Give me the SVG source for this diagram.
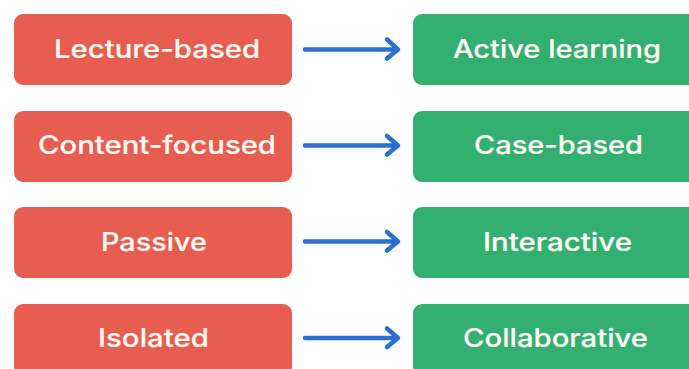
<svg xmlns="http://www.w3.org/2000/svg" width="689" height="369" viewBox="0 0 689 369">
<style>
.l{fill:#e75d4f}.r{fill:#33b06f}
text{font-family:Inter,"Liberation Sans",sans-serif;font-size:25.500px;font-weight:500;fill:#fbf8f2;text-anchor:middle;stroke:#fbf8f2;stroke-width:.2}
.a{fill:none;stroke:#2a70d3;stroke-width:4.500;stroke-linecap:round;stroke-linejoin:round}
</style>
<rect width="689" height="369" fill="#fff"/>
<g id="n1"><rect class="l" x="14" y="14" width="278" height="71" rx="9"/><text x="157" y="58" textLength="206" lengthAdjust="spacingAndGlyphs">Lecture-based</text></g>
<g id="n2"><rect class="l" x="14" y="111" width="278" height="71" rx="9"/><text x="157" y="154" textLength="238" lengthAdjust="spacingAndGlyphs">Content-focused</text></g>
<g id="n3"><rect class="l" x="14" y="207" width="278" height="71" rx="9"/><text x="154" y="251" textLength="106" lengthAdjust="spacingAndGlyphs">Passive</text></g>
<g id="n4"><rect class="l" x="14" y="304" width="278" height="71" rx="9"/><text x="153.500" y="347" textLength="111" lengthAdjust="spacingAndGlyphs">Isolated</text></g>
<g id="n5"><rect class="r" x="413" y="14" width="290" height="71" rx="9"/><text x="557" y="58" textLength="208" lengthAdjust="spacingAndGlyphs">Active learning</text></g>
<g id="n6"><rect class="r" x="413" y="111" width="290" height="71" rx="9"/><text x="558.500" y="154" textLength="169" lengthAdjust="spacingAndGlyphs">Case-based</text></g>
<g id="n7"><rect class="r" x="413" y="207" width="290" height="71" rx="9"/><text x="557.500" y="251" textLength="149" lengthAdjust="spacingAndGlyphs">Interactive</text></g>
<g id="n8"><rect class="r" x="413" y="304" width="290" height="71" rx="9"/><text x="555.500" y="347" textLength="185" lengthAdjust="spacingAndGlyphs">Collaborative</text></g>
<g id="connectors">
<path class="a" d="M305 49.500H397M387 39.500L398 49.500L387 58.500"/>
<path class="a" d="M305 145.500H397M387 136L398 145.500L387 154.500"/>
<path class="a" d="M305 241.500H397M387 232L398 241.500L387 250.500"/>
<path class="a" d="M305 338H397M387 328.500L398 338L387 347"/>
</g>
</svg>
